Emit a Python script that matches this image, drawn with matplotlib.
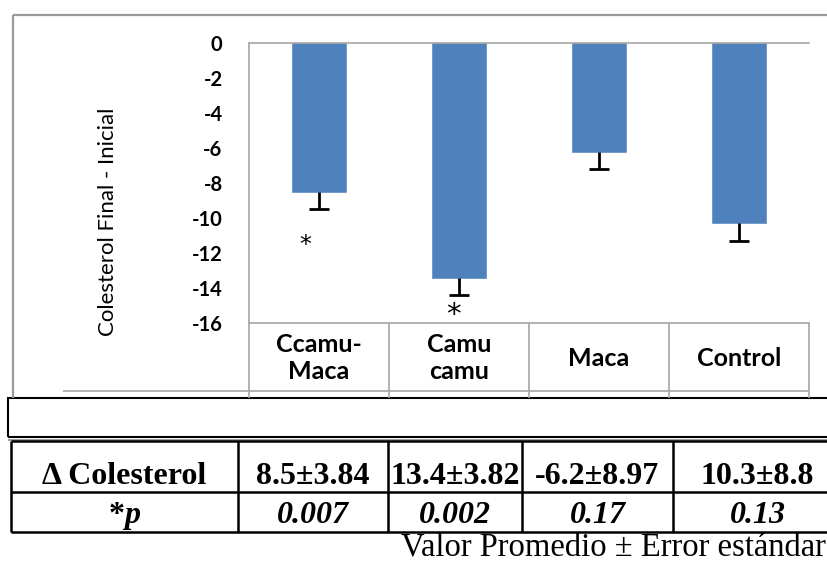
import matplotlib
matplotlib.use('Agg')
import matplotlib.pyplot as plt
from matplotlib.lines import Line2D
from matplotlib.patches import Rectangle
import numpy as np

categories = ['Ccamu-\nMaca', 'Camu\ncamu', 'Maca', 'Control']
cambio = [-8.5, -13.4, -6.2, -10.3]
error = [1.0, 1.0, 1.0, 1.0]
marcas = ['*', '*', '', '']

fila_titulos = ['\u0394 Colesterol', '*', 'p']
fila_media = ['8.5\u00b13.84', '13.4\u00b13.82', '-6.2\u00b18.97', '10.3\u00b18.8']
fila_p = ['0.007', '0.002', '0.17', '0.13']
nota = 'Valor Promedio \u00b1 Error est\u00e1ndar'

W, H = 827, 563
fig = plt.figure(figsize=(W / 100, H / 100), dpi=100)


def fx(x):
    return x / W


def fy(y):
    return 1 - y / H


def hline(y, x0, x1, color, lw):
    fig.add_artist(Line2D([fx(x0), fx(x1)], [fy(y), fy(y)], color=color, lw=lw,
                          transform=fig.transFigure, solid_capstyle='butt'))


def vline(x, y0, y1, color, lw):
    fig.add_artist(Line2D([fx(x), fx(x)], [fy(y0), fy(y1)], color=color, lw=lw,
                          transform=fig.transFigure, solid_capstyle='butt'))


# chart area frame
gris = '#9a9a9a'
hline(15, 13, W + 5, gris, 1.6)
vline(13, 15, 398, gris, 1.6)

# plot area
ax_l, ax_r, ax_t, ax_b = 249, 809, 43, 323
ax = fig.add_axes([fx(ax_l), fy(ax_b), fx(ax_r - ax_l), (ax_b - ax_t) / H])
x = np.arange(len(categories))
ax.bar(x, cambio, width=0.39, color='#4f81bd', edgecolor='#6b97cc', linewidth=0.6, zorder=2)
lo = np.array(cambio) - np.array(error)
ax.vlines(x, cambio, lo, color='black', lw=2, zorder=3)
ax.plot(x, lo, ls='none', marker='_', ms=14, mew=2, color='black', zorder=3)

# significance marks
star_pos = [(-0.10, -11.55, 17), (-0.04, -15.55, 21)]
for i, m in enumerate(marcas):
    if m:
        dx, yy, fs = star_pos[i]
        ax.text(x[i] + dx, yy, m, ha='center', va='center', fontsize=fs,
                family='DejaVu Sans', clip_on=False)

ax.set_xlim(-0.5, len(categories) - 0.5)
ax.set_ylim(-16, 0)
ax.set_yticks(np.arange(0, -17, -2))
ax.set_yticklabels([str(v) for v in np.arange(0, -17, -2)], fontsize=14.5,
                   fontweight='bold', family='Lato')
ax.tick_params(axis='y', length=0, pad=19)
ax.set_xticks([])
for s in ['top', 'left', 'bottom']:
    ax.spines[s].set_color('#a6a6a6')
    ax.spines[s].set_linewidth(1.2)
ax.spines['right'].set_visible(False)

# category label boxes under the axis
for k in range(len(categories) + 1):
    vline(ax_l + k * 140, ax_b, 398, '#a6a6a6', 1.2)
hline(391, 63, ax_r, '#a6a6a6', 1.2)
for i, c in enumerate(categories):
    fig.text(fx(ax_l + 70 + 140 * i), fy(358), c, ha='center', va='center',
             fontsize=18, fontweight='bold', family='Lato', linespacing=1.2)

fig.text(fx(108), fy(222), 'Colesterol Final - Inicial', rotation=90,
         ha='center', va='center', fontsize=16, family='Lato')

# empty caption box
fig.add_artist(Rectangle((fx(8), fy(437)), fx(W + 10), (437 - 398) / H,
                         transform=fig.transFigure, fill=False, ec='black', lw=1.5))
hline(439.5, 8, W + 5, '#8c8c8c', 1.2)

# summary table
cols = [11, 238, 388, 522, 673, 842]
rows = [441, 492, 532]
for y in rows:
    hline(y, cols[0], cols[-1], 'black', 1.8)
for xc in cols:
    vline(xc, rows[0], rows[-1], 'black', 1.8)

serif = 'Liberation Serif'
c0 = fx((cols[0] + cols[1]) / 2)
fig.text(c0, fy(484), fila_titulos[0], ha='center', va='baseline',
         fontsize=23, fontweight='bold', family=serif)
fig.text(c0, fy(523), fila_titulos[1], ha='right', va='baseline',
         fontsize=23, fontweight='bold', family=serif)
fig.text(c0, fy(523), fila_titulos[2], ha='left', va='baseline',
         fontsize=23, fontweight='bold', style='italic', family=serif)
for j in range(4):
    cx = fx((cols[j + 1] + cols[j + 2]) / 2)
    fig.text(cx, fy(484), fila_media[j], ha='center', va='baseline',
             fontsize=23, fontweight='bold', family=serif)
    fig.text(cx, fy(523), fila_p[j], ha='center', va='baseline',
             fontsize=23, fontweight='bold', style='italic', family=serif)

fig.text(fx(826), fy(556), nota, ha='right', va='baseline', fontsize=23.5, family=serif)

fig.savefig('out.png', dpi=100)
